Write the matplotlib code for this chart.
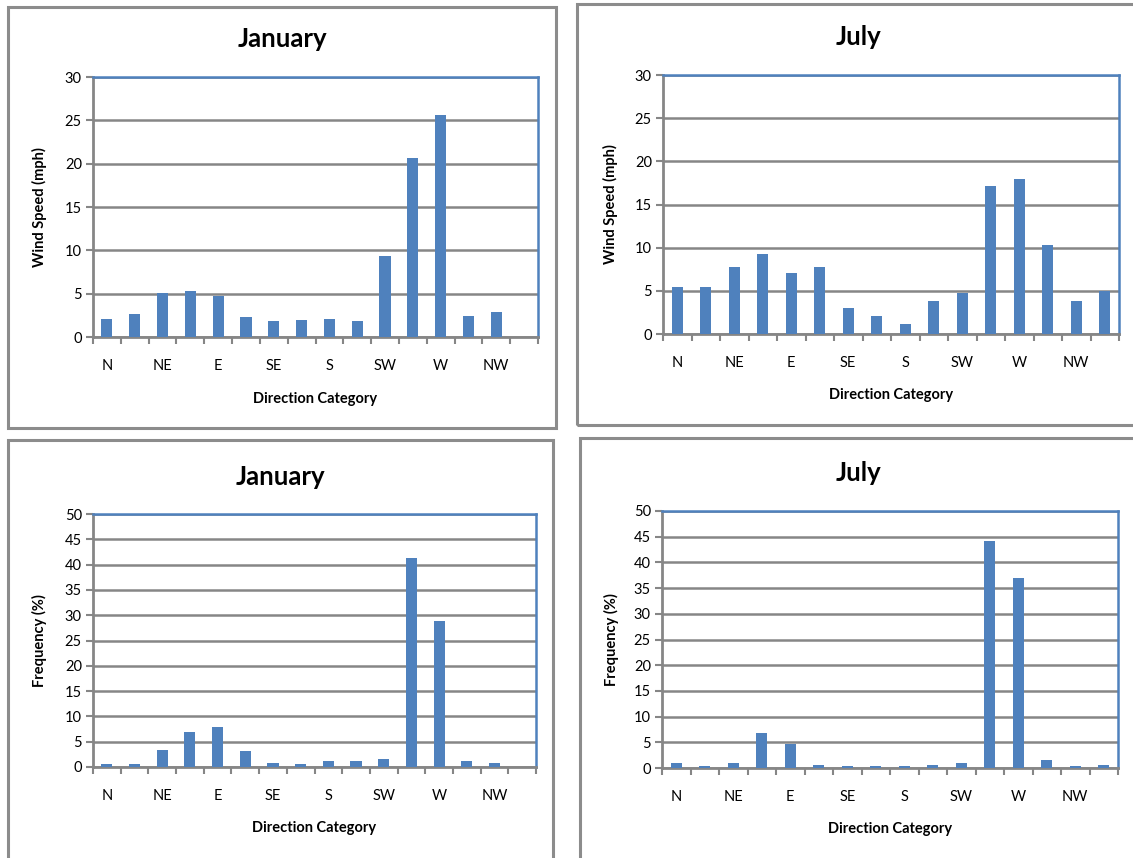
import numpy as np
import matplotlib
matplotlib.use("Agg")
import matplotlib.pyplot as plt
from matplotlib.patches import Rectangle

plt.rcParams["font.family"] = ["Lato", "DejaVu Sans"]

directions = ["N", "NE", "E", "SE", "S", "SW", "W", "NW"]
n_cat = 16

jan_speed = [2.1, 2.7, 5.1, 5.3, 4.7, 2.3, 1.8, 2.0, 2.1, 1.8, 9.4, 20.7, 25.6, 2.4, 2.9, 0.0]
jul_speed = [5.4, 5.5, 7.8, 9.3, 7.1, 7.8, 3.0, 2.1, 1.2, 3.8, 4.8, 17.1, 17.9, 10.3, 3.8, 5.0]
jan_freq = [0.5, 0.5, 3.4, 7.0, 7.9, 3.1, 0.8, 0.5, 1.1, 1.1, 1.6, 41.4, 28.9, 1.1, 0.8, 0.0]
jul_freq = [1.0, 0.3, 1.0, 6.9, 4.6, 0.5, 0.3, 0.3, 0.3, 0.5, 1.0, 44.1, 37.0, 1.6, 0.3, 0.5]

W, H = 1133, 858
BAR = "#4F81BD"
GRID = "#868686"
BOX = "#8C8C8C"

fig = plt.figure(figsize=(W / 100, H / 100), dpi=100)


def px_box(x0, y0, x1, y1):
    return [x0 / W, 1 - y1 / H, (x1 - x0) / W, (y1 - y0) / H]


# outer chart frames
for x0, y0, x1, y1 in [(8, 7, 556, 428), (577, 4, 1145, 425), (8, 440, 553, 865), (580, 438, 1145, 865)]:
    fig.patches.append(Rectangle((x0 / W, 1 - y1 / H), (x1 - x0) / W, (y1 - y0) / H,
                                 transform=fig.transFigure, fill=False, edgecolor=BOX, lw=2.2))

panels = [
    (px_box(93, 77, 538, 337), jan_speed, 30, "January", "Wind Speed (mph)", 0.425, -0.103, -0.212),
    (px_box(663, 75, 1119, 334), jul_speed, 30, "July", "Wind Speed (mph)", 0.428, -0.099, -0.208),
    (px_box(93, 514, 536, 767), jan_freq, 50, "January", "Frequency (%)", 0.424, -0.104, -0.213),
    (px_box(662, 511, 1118, 768), jul_freq, 50, "July", "Frequency (%)", 0.43, -0.094, -0.21),
]

x = np.arange(n_cat)
for rect, vals, ymax, title, ylab, tx, ylx, xly in panels:
    ax = fig.add_axes(rect)
    ax.bar(x, vals, width=0.4, color=BAR, zorder=3)
    ax.set_xlim(-0.5, n_cat - 0.5)
    ax.set_ylim(0, ymax)
    ax.set_yticks(np.arange(0, ymax + 1, 5))
    ax.yaxis.grid(True, color=GRID, lw=1.8)
    ax.set_axisbelow(True)
    ax.set_xticks(np.arange(-0.5, n_cat, 1))
    ax.set_xticklabels([])
    ax.set_xticks(np.arange(0, n_cat, 2), minor=True)
    ax.set_xticklabels(directions, minor=True)
    ax.tick_params(axis="x", which="major", direction="out", length=5, width=1.5, color=GRID)
    ax.tick_params(axis="x", which="minor", length=0, pad=16, labelsize=10.5)
    ax.tick_params(axis="y", direction="out", length=5, width=1.5, color=GRID, labelsize=10.5, pad=3)
    for s in ["left", "bottom"]:
        ax.spines[s].set_color(GRID)
        ax.spines[s].set_linewidth(2)
    for s in ["top", "right"]:
        ax.spines[s].set_color(BAR)
        ax.spines[s].set_linewidth(1.8)
    ax.set_ylabel(ylab, fontsize=10.5, fontweight="bold")
    ax.yaxis.set_label_coords(ylx, 0.5)
    ax.set_xlabel("Direction Category", fontsize=10.5, fontweight="bold")
    ax.xaxis.set_label_coords(0.5, xly)
    ax.text(tx, 1.147, title, transform=ax.transAxes, ha="center", va="center",
            fontsize=18.5, fontweight="bold")

fig.savefig("out.png", dpi=100)
